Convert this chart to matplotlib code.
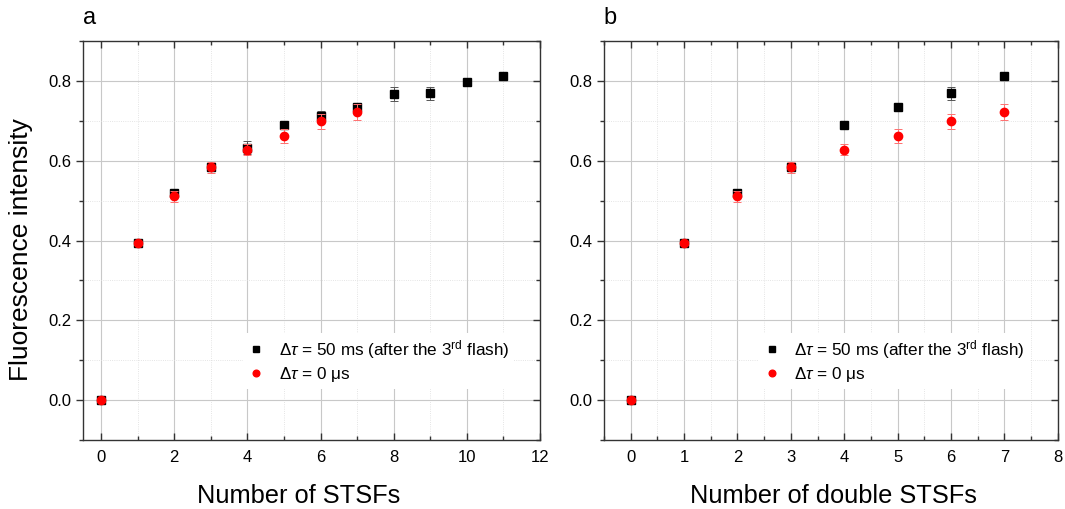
import numpy as np
import matplotlib.pyplot as plt
from matplotlib.ticker import MultipleLocator

plt.rcParams['font.family'] = ['Liberation Sans', 'DejaVu Sans']
plt.rcParams['mathtext.fontset'] = 'custom'
plt.rcParams['mathtext.rm'] = 'Liberation Sans'
plt.rcParams['mathtext.it'] = 'Liberation Sans:italic'

# panel a: single STSFs
x_a = [0, 1, 2, 3, 4, 5, 6, 7, 8, 9, 10, 11]
black_a = [0.0, 0.394, 0.519, 0.585, 0.632, 0.689, 0.712, 0.734, 0.766, 0.768, 0.797, 0.812]
black_a_err = [0.003, 0.005, 0.011, 0.009, 0.016, 0.006, 0.012, 0.008, 0.018, 0.016, 0.007, 0.005]
xr_a = [0, 1, 2, 3, 4, 5, 6, 7]
red_a = [0.0, 0.393, 0.511, 0.583, 0.627, 0.661, 0.698, 0.722]
red_a_err = [0.003, 0.005, 0.014, 0.013, 0.014, 0.018, 0.018, 0.020]

# panel b: double STSFs
x_b = [0, 1, 2, 3, 4, 5, 6, 7]
black_b = [0.0, 0.394, 0.519, 0.585, 0.689, 0.733, 0.768, 0.812]
black_b_err = [0.003, 0.005, 0.011, 0.009, 0.006, 0.008, 0.016, 0.005]
red_b = [0.0, 0.393, 0.511, 0.583, 0.627, 0.661, 0.698, 0.722]
red_b_err = [0.003, 0.005, 0.014, 0.013, 0.014, 0.018, 0.018, 0.020]

lab_black = r'$\Delta\tau$ = 50 ms (after the 3$^{\rm rd}$ flash)'
lab_red = r'$\Delta\tau$ = 0 μs'


def style_axes(ax, xmax, xminor, letter, xlabel, xlab_x):
    ax.set_xlim(-0.5, xmax)
    ax.set_ylim(-0.1, 0.9)
    ax.yaxis.set_major_locator(MultipleLocator(0.2))
    ax.yaxis.set_minor_locator(MultipleLocator(0.1))
    ax.xaxis.set_minor_locator(MultipleLocator(xminor))
    ax.grid(True, which='major', color='#c8c8c8', lw=0.8)
    ax.grid(True, which='minor', color='#dcdcdc', lw=0.6, ls=':')
    ax.set_axisbelow(True)
    ax.tick_params(which='both', top=True, right=True, direction='in',
                   labelsize=12, color='#333333', width=1)
    ax.tick_params(which='major', length=5)
    ax.tick_params(which='minor', length=3)
    ax.tick_params(axis='x', pad=7)
    ax.tick_params(axis='y', which='both', left=True, direction='out', pad=3)
    for s in ax.spines.values():
        s.set_color('#333333')
        s.set_linewidth(1.0)
    ax.set_yticks([0.0, 0.2, 0.4, 0.6, 0.8])
    ax.set_yticklabels(['0.0', '0.2', '0.4', '0.6', '0.8'])
    ax.set_xlabel(xlabel, fontsize=18.3, va='baseline')
    ax.xaxis.set_label_coords(xlab_x, -0.158)
    ax.text(0.0, 1.03, letter, transform=ax.transAxes, fontsize=17,
            ha='left', va='bottom')


fig = plt.figure(figsize=(10.65, 5.09), dpi=100)
ax1 = fig.add_axes([0.0777, 0.135, 0.4294, 0.785])
ax2 = fig.add_axes([0.567, 0.135, 0.4263, 0.785])

for ax, xs, bk, bke, xr, rd, rde in [
        (ax1, x_a, black_a, black_a_err, xr_a, red_a, red_a_err),
        (ax2, x_b, black_b, black_b_err, x_b, red_b, red_b_err)]:
    ax.errorbar(xs, bk, yerr=bke, fmt='s', color='black', ms=5.5,
                ecolor='#555555', elinewidth=0.7, capsize=3, capthick=0.7,
                label=lab_black, zorder=3)
    ax.errorbar(xr, rd, yerr=rde, fmt='o', color='red', ms=6,
                ecolor='#ff7070', elinewidth=0.7, capsize=3, capthick=0.7,
                label=lab_red, zorder=4)

style_axes(ax1, 12, 1, 'a', 'Number of STSFs', 0.471)
ax1.xaxis.set_major_locator(MultipleLocator(2))
style_axes(ax2, 8, 0.5, 'b', 'Number of double STSFs', 0.505)
ax2.xaxis.set_major_locator(MultipleLocator(1))

ax1.set_ylabel('Fluorescence intensity', fontsize=19, va='center', ha='center')
ax1.yaxis.set_label_coords(-0.134, 0.477)

for ax, xanch in [(ax1, 0.331), (ax2, 0.321)]:
    h, l = ax.get_legend_handles_labels()
    h = [hh[0] for hh in h]
    ax.legend(h, l, loc='upper left', bbox_to_anchor=(xanch, 0.29),
              fontsize=12.3, frameon=True, framealpha=1, edgecolor='none',
              facecolor='white', fancybox=False, handlelength=1.0,
              handletextpad=0.8, labelspacing=0.25, borderpad=0.3,
              markerscale=0.8)

# right-hand y ticks point into the axes (left ticks point out)
for ax in (ax1, ax2):
    for t in ax.yaxis.get_major_ticks() + ax.yaxis.get_minor_ticks():
        t.tick2line.set_marker(0)

fig.savefig('out.png', dpi=100)
